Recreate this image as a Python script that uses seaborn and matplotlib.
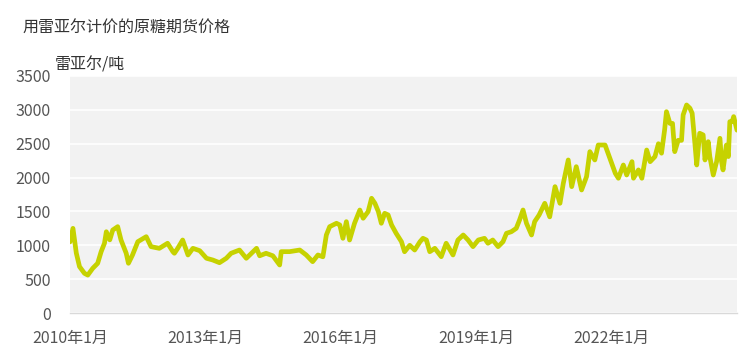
import matplotlib
matplotlib.use("Agg")
import matplotlib.pyplot as plt
import matplotlib.dates as mdates
import seaborn as sns
import pandas as pd

title = "用雷亚尔计价的原糖期货价格"
unit_label = "雷亚尔/吨"

dates = [
    "2010-01-01", "2010-01-25", "2010-02-21", "2010-03-19", "2010-04-28", "2010-05-25",
    "2010-07-04", "2010-08-13", "2010-09-10", "2010-10-07", "2010-10-22", "2010-11-19",
    "2010-12-13", "2011-01-22", "2011-02-18", "2011-04-01", "2011-04-19", "2011-05-22",
    "2011-07-04", "2011-09-10", "2011-10-19", "2011-12-25", "2012-03-01", "2012-04-13",
    "2012-04-25", "2012-05-22", "2012-07-01", "2012-08-13", "2012-09-22", "2012-11-16",
    "2013-01-10", "2013-03-01", "2013-04-25", "2013-06-19", "2013-07-28", "2013-10-04",
    "2013-11-28", "2014-02-19", "2014-03-16", "2014-05-07", "2014-07-01", "2014-08-25",
    "2014-09-07", "2014-11-13", "2015-02-04", "2015-03-28", "2015-05-19", "2015-07-01",
    "2015-08-10", "2015-09-07", "2015-10-04", "2015-11-28", "2015-12-25", "2016-01-19",
    "2016-02-16", "2016-03-13", "2016-04-22", "2016-06-04", "2016-07-01", "2016-08-10",
    "2016-09-07", "2016-10-04", "2016-11-01", "2016-11-25", "2016-12-22", "2017-01-19",
    "2017-02-16", "2017-03-25", "2017-05-07", "2017-06-01", "2017-07-13", "2017-08-22",
    "2017-10-04", "2017-10-28", "2017-11-25", "2017-12-22", "2018-02-01", "2018-03-25",
    "2018-05-04", "2018-06-28", "2018-08-07", "2018-09-19", "2018-10-28", "2018-12-07",
    "2019-01-19", "2019-03-10", "2019-04-07", "2019-05-16", "2019-06-28", "2019-08-07",
    "2019-09-04", "2019-10-13", "2019-11-22", "2019-12-19", "2020-01-16", "2020-02-13",
    "2020-03-25", "2020-04-19", "2020-05-25", "2020-07-10", "2020-08-19", "2020-10-01",
    "2020-11-10", "2020-12-07", "2021-01-16", "2021-02-13", "2021-03-22", "2021-05-04",
    "2021-06-13", "2021-07-10", "2021-08-19", "2021-09-16", "2021-11-10", "2021-12-19",
    "2022-02-01", "2022-02-26", "2022-04-07", "2022-05-04", "2022-06-16", "2022-06-28",
    "2022-08-07", "2022-09-04", "2022-10-13", "2022-11-10", "2022-12-19", "2023-01-16",
    "2023-02-10", "2023-03-07", "2023-03-22", "2023-04-19", "2023-05-10", "2023-05-28",
    "2023-06-25", "2023-07-22", "2023-08-04", "2023-09-01", "2023-09-28", "2023-10-16",
    "2023-11-07", "2023-11-22", "2023-12-16", "2024-01-13", "2024-01-28", "2024-02-23",
    "2024-03-07", "2024-04-04", "2024-05-01", "2024-05-28", "2024-06-10", "2024-06-22",
    "2024-07-19", "2024-08-04", "2024-08-16", "2024-09-04", "2024-09-16", "2024-10-13",
]

prices = [
    1050, 1250, 885, 685, 586, 560,
    660, 734, 905, 1030, 1200, 1080,
    1225, 1275, 1078, 882, 734, 857,
    1053, 1127, 980, 955, 1030, 905,
    882, 955, 1078, 857, 955, 920,
    808, 783, 743, 808, 882, 930,
    808, 955, 845, 882, 845, 709,
    906, 906, 930, 857, 758, 857,
    830, 1152, 1275, 1325, 1300, 1103,
    1349, 1078, 1325, 1521, 1399, 1497,
    1694, 1620, 1497, 1325, 1472, 1448,
    1300, 1177, 1053, 905, 1000, 930,
    1053, 1103, 1078, 905, 955, 832,
    1030, 857, 1078, 1152, 1078, 980,
    1078, 1103, 1030, 1078, 980, 1053,
    1177, 1200, 1250, 1374, 1521, 1325,
    1152, 1349, 1447, 1620, 1420, 1866,
    1620, 1915, 2260, 1866, 2161, 1817,
    2013, 2383, 2260, 2481, 2481, 2285,
    2063, 1990, 2186, 2038, 2235, 1990,
    2113, 1990, 2407, 2235, 2310, 2500,
    2360, 2703, 2973, 2800, 2800, 2383,
    2550, 2550, 2925, 3072, 3024, 2950,
    2507, 2186, 2654, 2630, 2260, 2530,
    2310, 2038, 2235, 2580, 2235, 2113,
    2480, 2310, 2826, 2826, 2900, 2700,
]

y_ticks = [0, 500, 1000, 1500, 2000, 2500, 3000, 3500]
x_tick_dates = ["2010-01-01", "2013-01-01", "2016-01-01", "2019-01-01", "2022-01-01"]
x_tick_labels = ["2010年1月", "2013年1月", "2016年1月", "2019年1月", "2022年1月"]

sns.set_theme(style="white")
plt.rcParams["font.family"] = ["Noto Sans CJK SC", "DejaVu Sans"]

df = pd.DataFrame({"date": pd.to_datetime(dates), "price": prices})

fig = plt.figure(figsize=(7.42, 3.63), dpi=100)
ax = fig.add_axes([70 / 742, 1 - 313 / 363, (737 - 70) / 742, (313 - 76) / 363])
ax.set_facecolor("#f2f2f2")

sns.lineplot(data=df, x="date", y="price", ax=ax, color="#c6d200", linewidth=3.4)

ax.set_ylim(0, 3500)
ax.set_yticks(y_ticks)
ax.set_yticklabels([str(v) for v in y_ticks])
ax.set_xlim(df["date"].iloc[0], df["date"].iloc[-1])
ax.set_xticks(pd.to_datetime(x_tick_dates))
ax.set_xticklabels(x_tick_labels)

ax.grid(axis="y", color="white", linewidth=1.2)
ax.grid(axis="x", visible=False)
ax.set_axisbelow(True)
for s in ["top", "right", "left"]:
    ax.spines[s].set_visible(False)
ax.spines["bottom"].set_color("#d9d9d9")
ax.spines["bottom"].set_linewidth(1)

ax.tick_params(axis="y", length=0, pad=14, labelsize=11.5, labelcolor="#555555")
ax.tick_params(axis="x", length=6, width=1, color="#d9d9d9", pad=6,
               labelsize=11.5, labelcolor="#555555", direction="out")
ax.set_xlabel("")
ax.set_ylabel("")

fig.text(22 / 742, 1 - 28 / 363, title, fontsize=11.5, color="#333333",
         ha="left", va="center")
fig.text(55 / 742, 1 - 65 / 363, unit_label, fontsize=11.5, color="#333333",
         ha="left", va="center")

fig.savefig("out.png", dpi=100)
